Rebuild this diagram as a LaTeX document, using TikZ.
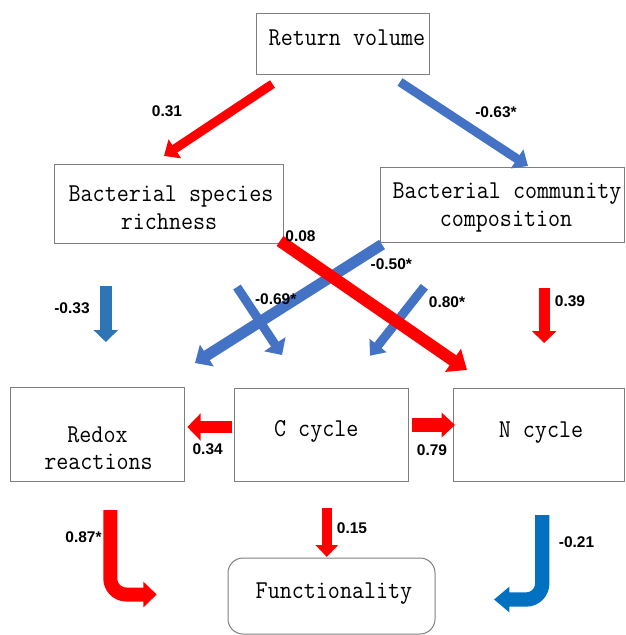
\documentclass[tikz,border=0pt]{standalone}
\usepackage{fontspec}
\newfontfamily\lblfont{Liberation Sans}
\usetikzlibrary{arrows.meta}

\definecolor{pathred}{RGB}{255,0,0}
\definecolor{pathblue}{RGB}{68,114,196}
\definecolor{pathblueB}{RGB}{46,117,182}
\definecolor{pathblueC}{RGB}{0,112,192}
\definecolor{boxline}{RGB}{127,127,127}

\tikzset{
  box/.style={draw=boxline, line width=1pt, fill=white, inner sep=0pt, outer sep=0pt},
  boxtext/.style={inner sep=0pt, anchor=base, font=\fontsize{25.7}{30}\selectfont\ttfamily},
  coef/.style={inner sep=0pt, font=\lblfont\bfseries\fontsize{15.5}{18}\selectfont},
  fat/.style n args={4}{draw=#1, line width=#2pt, line cap=butt,
    -{Triangle[length=#4pt, width=#3pt]}},
}
\newcommand{\bt}[1]{\scalebox{0.91}[1]{#1}}

\begin{document}
\begin{tikzpicture}[x=1pt, y=-1pt]
\useasboundingbox (0,0) rectangle (625,635);

% boxes
\node[box, minimum width=173pt, minimum height=61pt] (rv) at (342.5,43.5) {};
\node[box, minimum width=229pt, minimum height=79pt] (bsr) at (168.5,203.5) {};
\node[box, minimum width=244pt, minimum height=75pt] (bcc) at (502,204.5) {};
\node[box, minimum width=174pt, minimum height=94pt] (redox) at (97,434) {};
\node[box, minimum width=174pt, minimum height=93pt] (ccyc) at (321.3,434.5) {};
\node[box, minimum width=170.7pt, minimum height=93pt] (ncyc) at (538.7,434.5) {};
\node[box, rounded corners=15pt, minimum width=207pt, minimum height=76pt] (func) at (331.5,596) {};

% box texts
\node[boxtext] (rvt) at (347,45) {\bt{Return volume}};
\node[boxtext] (bsrt1) at (171,201.7) {\bt{Bacterial species}};
\node[boxtext] (bsrt2) at (169,229.3) {\bt{richness}};
\node[boxtext] (bcct1) at (507,198.3) {\bt{Bacterial community}};
\node[boxtext] (bcct2) at (506,226) {\bt{composition}};
\node[boxtext] (redoxt1) at (97.5,442.3) {\bt{Redox}};
\node[boxtext] (redoxt2) at (98.5,469.3) {\bt{reactions}};
\node[boxtext] (ccyct) at (316.3,436.7) {\bt{C cycle}};
\node[boxtext] (ncyct) at (541,437) {\bt{N cycle}};
\node[boxtext] (funct) at (334,598.3) {\bt{Functionality}};

% path arrows (blue ones first, the red diagonal crosses over them)
\draw[fat={pathblue}{9}{22}{13}] (400,82) -- (528,166);
\draw[fat={pathblue}{11}{25}{14}] (382,244.5) -- (195,363);
\draw[fat={pathblue}{9}{25}{13}] (237,287) -- (282,355);
\draw[fat={pathblue}{9}{21}{13}] (424.3,286.7) -- (370,355.7);
\draw[fat={pathblueB}{11.5}{24}{12}] (105.8,286) -- (105.8,342);

\draw[fat={pathred}{9}{22}{13}] (272.5,84) -- (164,156);
\draw[fat={pathred}{12}{27}{17}] (280,241) -- (467,370);
\draw[fat={pathred}{11}{24}{12}] (544.2,288) -- (544.2,343);
\draw[fat={pathred}{12.7}{26.7}{13.4}] (231.7,427) -- (187.3,427);
\draw[fat={pathred}{13.3}{24}{13.3}] (411.7,425) -- (455,425);
\draw[fat={pathred}{9.5}{22}{12}] (326.8,508) -- (326.8,557);

% bent arrows into Functionality
\draw[fat={pathred}{14}{25}{13.4}, rounded corners=16pt]
  (110.3,510) -- (110.3,594.5) -- (156.7,594.5);
\draw[fat={pathblueC}{14.3}{24.6}{15.3}, rounded corners=16pt]
  (542.2,515) -- (542.2,599.5) -- (494,599.5);

% path coefficients
\node[coef] (c1) at (167,111) {0.31};
\node[coef] (c2) at (496,112.5) {-0.63*};
\node[coef] (c3) at (300.5,236) {0.08};
\node[coef] (c4) at (391.3,263.7) {-0.50*};
\node[coef] (c5) at (72,308.5) {-0.33};
\node[coef] (c6) at (275.7,299) {-0.69*};
\node[coef] (c7) at (447,302) {0.80*};
\node[coef] (c8) at (570,301.5) {0.39};
\node[coef] (c9) at (207.7,448.7) {0.34};
\node[coef] (c10) at (432,450.3) {0.79};
\node[coef] (c11) at (83.5,537.5) {0.87*};
\node[coef] (c12) at (352,528.5) {0.15};
\node[coef] (c13) at (576.5,542.5) {-0.21};
\end{tikzpicture}
\end{document}
